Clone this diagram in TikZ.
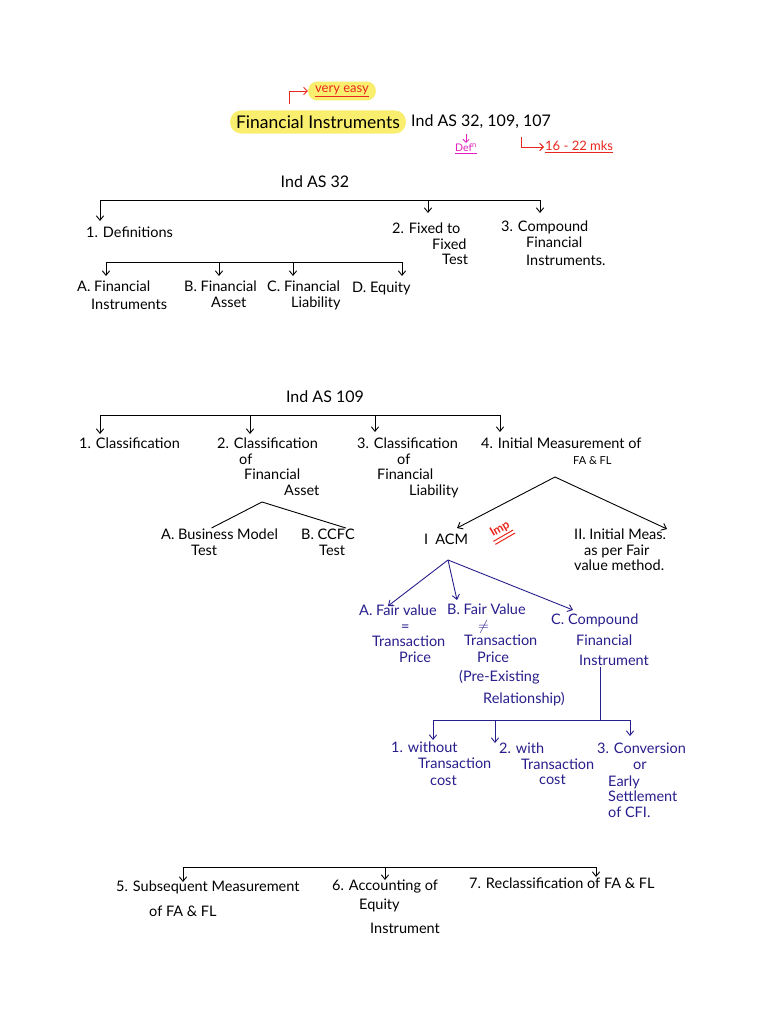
\documentclass[tikz,border=0pt]{standalone}
\usepackage{fontspec}
\setmainfont{Lato}
\usepackage{tikz}
\usetikzlibrary{arrows.meta}
\definecolor{hl}{RGB}{250,238,110}
\definecolor{redpen}{RGB}{232,40,30}
\definecolor{magpen}{RGB}{226,30,190}
\definecolor{bluepen}{RGB}{40,30,140}

\begin{document}
\begin{tikzpicture}[x=1pt, y=-1pt,
    font=\fontsize{14.5}{15.5}\selectfont,
    txt/.style={inner sep=1pt, align=left, anchor=north west},
    head/.style={inner sep=1pt, font=\fontsize{16}{18}\selectfont},
    small/.style={inner sep=1pt, font=\fontsize{13}{14}\selectfont},
    bar/.style={line width=0.9pt},
    arr/.style={-{Straight Barb[length=1.6mm, width=2.6mm]}, line width=0.9pt},
    redarr/.style={-{Straight Barb[length=1.3mm]}, redpen, line width=0.9pt},
    magarr/.style={-{Straight Barb[length=1.1mm]}, magpen, line width=0.8pt},
    bpen/.style={bluepen, text=bluepen}
  ]
  \fill[white] (0,0) rectangle (768,1024);
  \useasboundingbox (0,0) rectangle (768,1024);

  % title
  \node[small, text=redpen, fill=hl, rounded corners=9pt, inner xsep=7pt, inner ysep=4pt] (easy) at (342,91) {\underline{very easy}};
  \node[head, fill=hl, rounded corners=11pt, inner xsep=6pt, inner ysep=5pt, font=\fontsize{17.5}{20}\selectfont] (fi) at (318,122) {Financial Instruments};
  \node[head, anchor=west] (ias) at (410,122) {Ind AS 32, 109, 107};
  \node[small, text=magpen, font=\fontsize{10.5}{12}\selectfont] (defn) at (466,149) {\underline{Def\textsuperscript{n}}};
  \node[small, text=redpen, anchor=west] (mks) at (544,147) {\underline{16 - 22 mks}};
  \coordinate (hk1) at (289,104);
  \coordinate (hk2) at (521,137);
  \coordinate (hk3) at (466,134);
  \draw[redarr] (hk1) |- (easy.west);
  \draw[redarr] (hk2) |- (mks.west);
  \draw[magarr] (hk3) -- (defn.north);

  % Ind AS 32
  \node[head] (as32) at (315,182) {Ind AS 32};
  \coordinate (b32l) at (100,200);
  \coordinate (b32r) at (540,200);
  \draw[bar] (b32l) -- (b32r);
  \coordinate (t32a) at (100,221);
  \coordinate (t32b) at (428,213);
  \coordinate (t32c) at (540,213);
  \foreach \t in {t32a,t32b,t32c}
    \draw[arr] (\t |- b32l) -- (\t);
  \node[txt] (def) at (85,226) {1. Definitions};
  \node[txt] (fixed) at (391,222) {2. Fixed to\\\hspace*{40pt}Fixed\\\hspace*{50pt}Test};
  \node[txt] (cfi32) at (500,220) {3. Compound\\\hspace*{25pt}Financial\\[3pt]\hspace*{25pt}Instruments.};

  \coordinate (bdl) at (106,262);
  \coordinate (bdr) at (402,262);
  \draw[bar] (bdl) -- (bdr);
  \coordinate (tda) at (106,276);
  \coordinate (tdb) at (219,276);
  \coordinate (tdc) at (293,276);
  \coordinate (tdd) at (402,276);
  \foreach \t in {tda,tdb,tdc,tdd}
    \draw[arr] (\t |- bdl) -- (\t);
  \node[txt] (fins) at (76,280) {A. Financial\\[2pt]\hspace*{14pt}Instruments};
  \node[txt] (fass) at (183,280) {B. Financial\\\hspace*{27pt}Asset};
  \node[txt] (flia) at (266,280) {C. Financial\\\hspace*{24pt}Liability};
  \node[txt] (equ) at (351,281) {D. Equity};

  % Ind AS 109
  \node[head] (as109) at (325,397) {Ind AS 109};
  \coordinate (b9l) at (100,415);
  \coordinate (b9r) at (500,415);
  \draw[bar] (b9l) -- (b9r);
  \coordinate (t9a) at (100,434);
  \coordinate (t9b) at (250,434);
  \coordinate (t9c) at (375,432);
  \coordinate (t9d) at (500,432);
  \foreach \t in {t9a,t9b,t9c,t9d}
    \draw[arr] (\t |- b9l) -- (\t);
  \node[txt] (clas) at (78,437) {1. Classification};
  \node[txt] (cfa) at (216,437) {2. Classification\\\hspace*{22pt}of\\\hspace*{27pt}Financial\\\hspace*{67pt}Asset};
  \node[txt] (cfl) at (356,437) {3. Classification\\\hspace*{40pt}of\\\hspace*{20pt}Financial\\\hspace*{52pt}Liability};
  \node[txt] (imf) at (480,437) {4. Initial Measurement of\\\hspace*{92pt}{\fontsize{11}{15.5}\selectfont FA \& FL}};

  \coordinate (ap1) at (262,502);
  \node[txt] (bm) at (160,528) {A. Business Model\\\hspace*{30pt}Test};
  \node[txt] (ccfc) at (300,528) {B. CCFC\\\hspace*{18pt}Test};
  \draw[bar] ([xshift=-8pt]bm.north) -- (ap1) -- ([xshift=-10pt]ccfc.north east);

  \coordinate (ap2) at (555,477);
  \coordinate (tacm) at (457,528);
  \coordinate (tiim) at (667,529);
  \node[inner sep=1pt] (acm) at (446,539) {I\enspace ACM};
  \node[txt] (iim) at (573,528) {II. Initial Meas.\\\hspace*{10pt}as per Fair\\value method.};
  \node[text=redpen, rotate=30, inner sep=1pt, font=\fontsize{12}{13}\selectfont\bfseries] (imp) at (500,529) {Imp};
  \draw[redpen, line width=1pt] ([yshift=-1pt]imp.south west) -- ([yshift=-1pt]imp.south east);
  \draw[redpen, line width=1pt] ([xshift=2pt,yshift=-4pt]imp.south west) -- ([xshift=2pt,yshift=-4pt]imp.south east);
  \draw[arr] (ap2) -- (tacm);
  \draw[arr] (ap2) -- (tiim);

  % ACM branch
  \begin{scope}[bpen]
    \coordinate (ap3) at (448,560);
    \coordinate (ta) at (388,606);
    \coordinate (tb) at (457,600);
    \coordinate (tc) at (573,610);
    \foreach \t in {ta,tb,tc}
      \draw[arr] (ap3) -- (\t);
    \node[txt] (fva) at (358,604) {A. Fair value\\\hspace*{42pt}=\\\hspace*{13pt}Transaction\\\hspace*{40pt}Price};
    \node[txt] (fvb) at (446,603) {B. Fair Value\\\hspace*{31pt}$\neq$\\\hspace*{17pt}Transaction\\[1.5pt]\hspace*{30pt}Price\\[3.5pt]\hspace*{12pt}(Pre-Existing\\[6pt]\hspace*{36pt}Relationship)};
    \node[txt, font=\fontsize{14.5}{20.5}\selectfont] (cfi) at (550,613) {C. Compound\\\hspace*{25pt}Financial\\\hspace*{28pt}Instrument};

    \coordinate (bb) at (600,720);
    \coordinate (bbl) at (433,720);
    \coordinate (bbr) at (630,720);
    \draw[bar] (bb |- cfi.south) -- (bb);
    \draw[bar] (bbl) -- (bbr);
    \coordinate (tx) at (433,740);
    \coordinate (ty) at (495,743);
    \coordinate (tz) at (630,736);
    \foreach \t in {tx,ty,tz}
      \draw[arr] (\t |- bbl) -- (\t);
    \node[txt] (wo) at (390,741) {1. without\\\hspace*{27pt}Transaction\\[1.5pt]\hspace*{39pt}cost};
    \node[txt] (wi) at (498,742) {2. with\\\hspace*{22pt}Transaction\\\hspace*{40pt}cost};
    \node[txt] (conv) at (596,742) {3. Conversion\\\hspace*{36pt}or\\[1.5pt]\hspace*{11pt}Early\\\hspace*{11pt}Settlement\\\hspace*{11pt}of CFI.};
  \end{scope}

  % items 5 to 7
  \coordinate (bml) at (183,867);
  \coordinate (bmr) at (596,867);
  \draw[bar] (bml) -- (bmr);
  \coordinate (t5) at (183,882);
  \coordinate (t6) at (385,880);
  \coordinate (t7) at (596,877);
  \foreach \t in {t5,t6,t7}
    \draw[arr] (\t |- bml) -- (\t);
  \node[txt] (subm) at (115,880) {5. Subsequent Measurement\\[9.5pt]\hspace*{33pt}of FA \& FL};
  \node[txt] (acc) at (331,879) {6. Accounting of\\[3.5pt]\hspace*{27pt}Equity\\[8.5pt]\hspace*{38pt}Instrument};
  \node[txt] (recl) at (468,877) {7. Reclassification of FA \& FL};
\end{tikzpicture}
\end{document}
